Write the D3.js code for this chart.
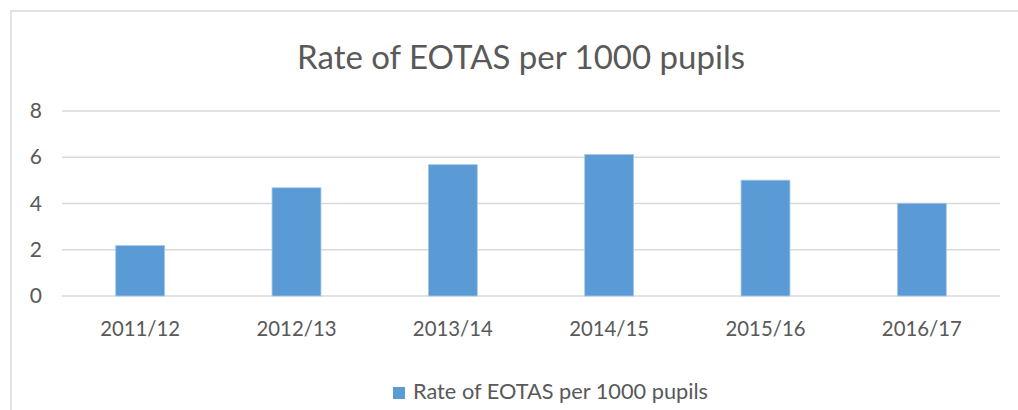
<!DOCTYPE html>
<html>
<head>
<meta charset="utf-8">
<script src="https://cdn.jsdelivr.net/npm/d3@7"></script>
<style>
  html, body { margin: 0; padding: 0; background: #fff; }
  svg { display: block; }
  text { font-family: Lato, "Open Sans", sans-serif; fill: #595959; }
</style>
</head>
<body>
<script>
const categories = ["2011/12", "2012/13", "2013/14", "2014/15", "2015/16", "2016/17"];
const values = [2.18, 4.68, 5.68, 6.12, 5.01, 4.01];
const yTicks = [0, 2, 4, 6, 8];
const seriesName = "Rate of EOTAS per 1000 pupils";
const titleText = "Rate of EOTAS per 1000 pupils";

const W = 1018, H = 410;
const svg = d3.select("body").append("svg").attr("width", W).attr("height", H);

// chart area border (frame extends beyond right/bottom of the picture)
svg.append("rect")
  .attr("x", 11).attr("y", 11)
  .attr("width", W + 20).attr("height", H + 20)
  .attr("fill", "#fff").attr("stroke", "#d9d9d9").attr("stroke-width", 1.5);

const plot = { left: 62, right: 1000, top: 111, bottom: 296 };

const x = d3.scaleBand().domain(categories).range([plot.left, plot.right]).padding(0);
const y = d3.scaleLinear().domain([0, 8]).range([plot.bottom, plot.top]);
const barW = x.bandwidth() * 0.313;

// gridlines
svg.append("g").selectAll("line").data(yTicks).join("line")
  .attr("x1", plot.left).attr("x2", plot.right)
  .attr("y1", d => y(d)).attr("y2", d => y(d))
  .attr("stroke", "#d9d9d9").attr("stroke-width", 1.5);

// y axis labels
const yAxis = d3.axisLeft(y).tickValues(yTicks).tickSize(0).tickPadding(0);
const gy = svg.append("g").attr("transform", `translate(42,0)`).call(yAxis);
gy.select(".domain").remove();
gy.selectAll("text").attr("font-size", 21).attr("fill", "#595959")
  .style("font-family", "Lato, sans-serif");

// bars
svg.append("g").selectAll("rect").data(values).join("rect")
  .attr("x", (d, i) => x(categories[i]) + x.bandwidth() / 2 - barW / 2)
  .attr("width", barW)
  .attr("y", d => y(d))
  .attr("height", d => y(0) - y(d))
  .attr("fill", "#5b9bd5")
  .attr("stroke", "#a9c8ea").attr("stroke-width", 0.8);

// x axis labels
const xAxis = d3.axisBottom(x).tickSize(0).tickPadding(0);
const gx = svg.append("g").attr("transform", `translate(0,${plot.bottom})`).call(xAxis);
gx.select(".domain").remove();
gx.selectAll("text").attr("font-size", 21).attr("fill", "#595959")
  .attr("dy", null).attr("y", 40)
  .attr("textLength", 80).attr("lengthAdjust", "spacingAndGlyphs")
  .style("font-family", "Lato, sans-serif");

// title
svg.append("text")
  .attr("x", 521).attr("y", 69)
  .attr("text-anchor", "middle")
  .attr("font-size", 32)
  .attr("textLength", 448).attr("lengthAdjust", "spacingAndGlyphs")
  .text(titleText);

// legend
const lg = svg.append("g");
lg.append("rect").attr("x", 393).attr("y", 387).attr("width", 12).attr("height", 12).attr("fill", "#5b9bd5");
lg.append("text").attr("x", 413).attr("y", 399)
  .attr("font-size", 21)
  .attr("textLength", 295).attr("lengthAdjust", "spacingAndGlyphs")
  .text(seriesName);
</script>
</body>
</html>
